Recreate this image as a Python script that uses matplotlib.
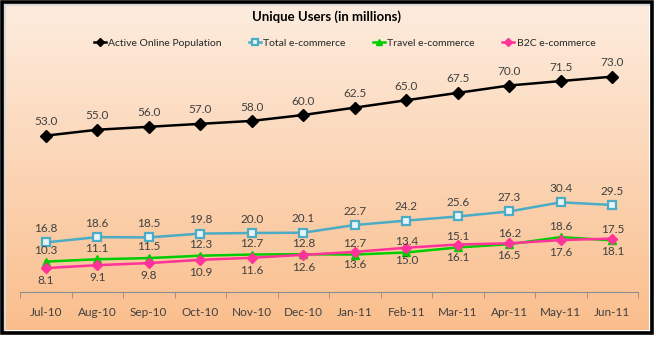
import numpy as np
import matplotlib
matplotlib.use("Agg")
import matplotlib.pyplot as plt
from matplotlib.patches import Rectangle

plt.rcParams['font.family'] = ['Lato', 'DejaVu Sans']

months = ['Jul-10', 'Aug-10', 'Sep-10', 'Oct-10', 'Nov-10', 'Dec-10',
          'Jan-11', 'Feb-11', 'Mar-11', 'Apr-11', 'May-11', 'Jun-11']
active_online = [53.0, 55.0, 56.0, 57.0, 58.0, 60.0, 62.5, 65.0, 67.5, 70.0, 71.5, 73.0]
total_ecom = [16.8, 18.6, 18.5, 19.8, 20.0, 20.1, 22.7, 24.2, 25.6, 27.3, 30.4, 29.5]
travel_ecom = [10.3, 11.1, 11.5, 12.3, 12.7, 12.8, 12.7, 13.4, 15.1, 16.2, 18.6, 17.5]
b2c_ecom = [8.1, 9.1, 9.8, 10.9, 11.6, 12.6, 13.6, 15.0, 16.1, 16.5, 17.6, 18.1]

W, H = 656, 338
fig = plt.figure(figsize=(W / 100, H / 100), dpi=100)
fig.patch.set_facecolor('white')

# peach gradient background inside the frame
bg = fig.add_axes([0, 0, 1, 1], zorder=0)
bg.set_xlim(0, W)
bg.set_ylim(H, 0)
bg.axis('off')
top = np.array([253, 236, 222]) / 255
bot = np.array([250, 190, 140]) / 255
t = np.linspace(0, 1, 256)[:, None]
grad = top[None, :] * (1 - t) + bot[None, :] * t
grad = np.repeat(grad[:, None, :], 2, axis=1)
bg.imshow(grad, extent=[6, 649, 330, 6], aspect='auto', interpolation='bilinear')
# frame with a soft inner shadow
bg.add_patch(Rectangle((4, 4), 647, 328, fill=False, ec='#d8d8d8', lw=2))
bg.add_patch(Rectangle((2, 2), 650, 331, fill=False, ec='black', lw=2.6))

ax = fig.add_axes([20 / W, 46 / H, 618 / W, 236 / H], zorder=1)
ax.patch.set_alpha(0)
x = np.arange(len(months))

ax.plot(x, active_online, color='black', lw=1.8, marker='D', ms=6,
        mfc='black', mec='black', label='Active Online Population')
ax.plot(x, total_ecom, color='#4BACC6', lw=1.8, marker='s', ms=5.5,
        mfc='#e8f4f8', mec='#4BACC6', mew=1.6, label='Total e-commerce')
ax.plot(x, travel_ecom, color='#00CC00', lw=1.8, marker='^', ms=6,
        mfc='#00CC00', mec='#00CC00', label='Travel e-commerce')
ax.plot(x, b2c_ecom, color='#FF3399', lw=1.8, marker='D', ms=5,
        mfc='#FF3399', mec='#FF3399', label='B2C e-commerce')

lab_kw = dict(textcoords='offset points', ha='center', va='center',
              fontsize=8.5, color='#404040')
for i in x:
    ax.annotate('%.1f' % active_online[i], (i, active_online[i]), xytext=(0, 10), **lab_kw)
    ax.annotate('%.1f' % total_ecom[i], (i, total_ecom[i]), xytext=(0, 10), **lab_kw)
    ax.annotate('%.1f' % travel_ecom[i], (i, travel_ecom[i]), xytext=(0, 8), **lab_kw)
    ax.annotate('%.1f' % b2c_ecom[i], (i, b2c_ecom[i]), xytext=(0, -9), **lab_kw)

ax.set_xlim(-0.5, len(months) - 0.5)
ax.set_ylim(0, 80)
ax.set_yticks([])
for s in ['left', 'right', 'top']:
    ax.spines[s].set_visible(False)
ax.spines['bottom'].set_color('#8c8c8c')
ax.set_xticks(x)
ax.set_xticklabels(months, fontsize=8.5, color='#404040')
ax.set_xticks(np.arange(-0.5, len(months)), minor=True)
ax.tick_params(axis='x', which='major', length=0, pad=11)
ax.tick_params(axis='x', which='minor', length=4, color='#8c8c8c', direction='out')

fig.text(0.497, 1 - 17 / H, 'Unique Users (in millions)', ha='center', va='center',
         fontsize=9.5, fontweight='bold', color='black')
fig.legend(loc='center', bbox_to_anchor=(0.525, 1 - 43 / H), ncol=4, frameon=False,
           fontsize=7.5, handlelength=1.2, handletextpad=0.2, columnspacing=2.6,
           markerscale=0.75, labelcolor='#262626')

fig.savefig('out.png', dpi=100)
